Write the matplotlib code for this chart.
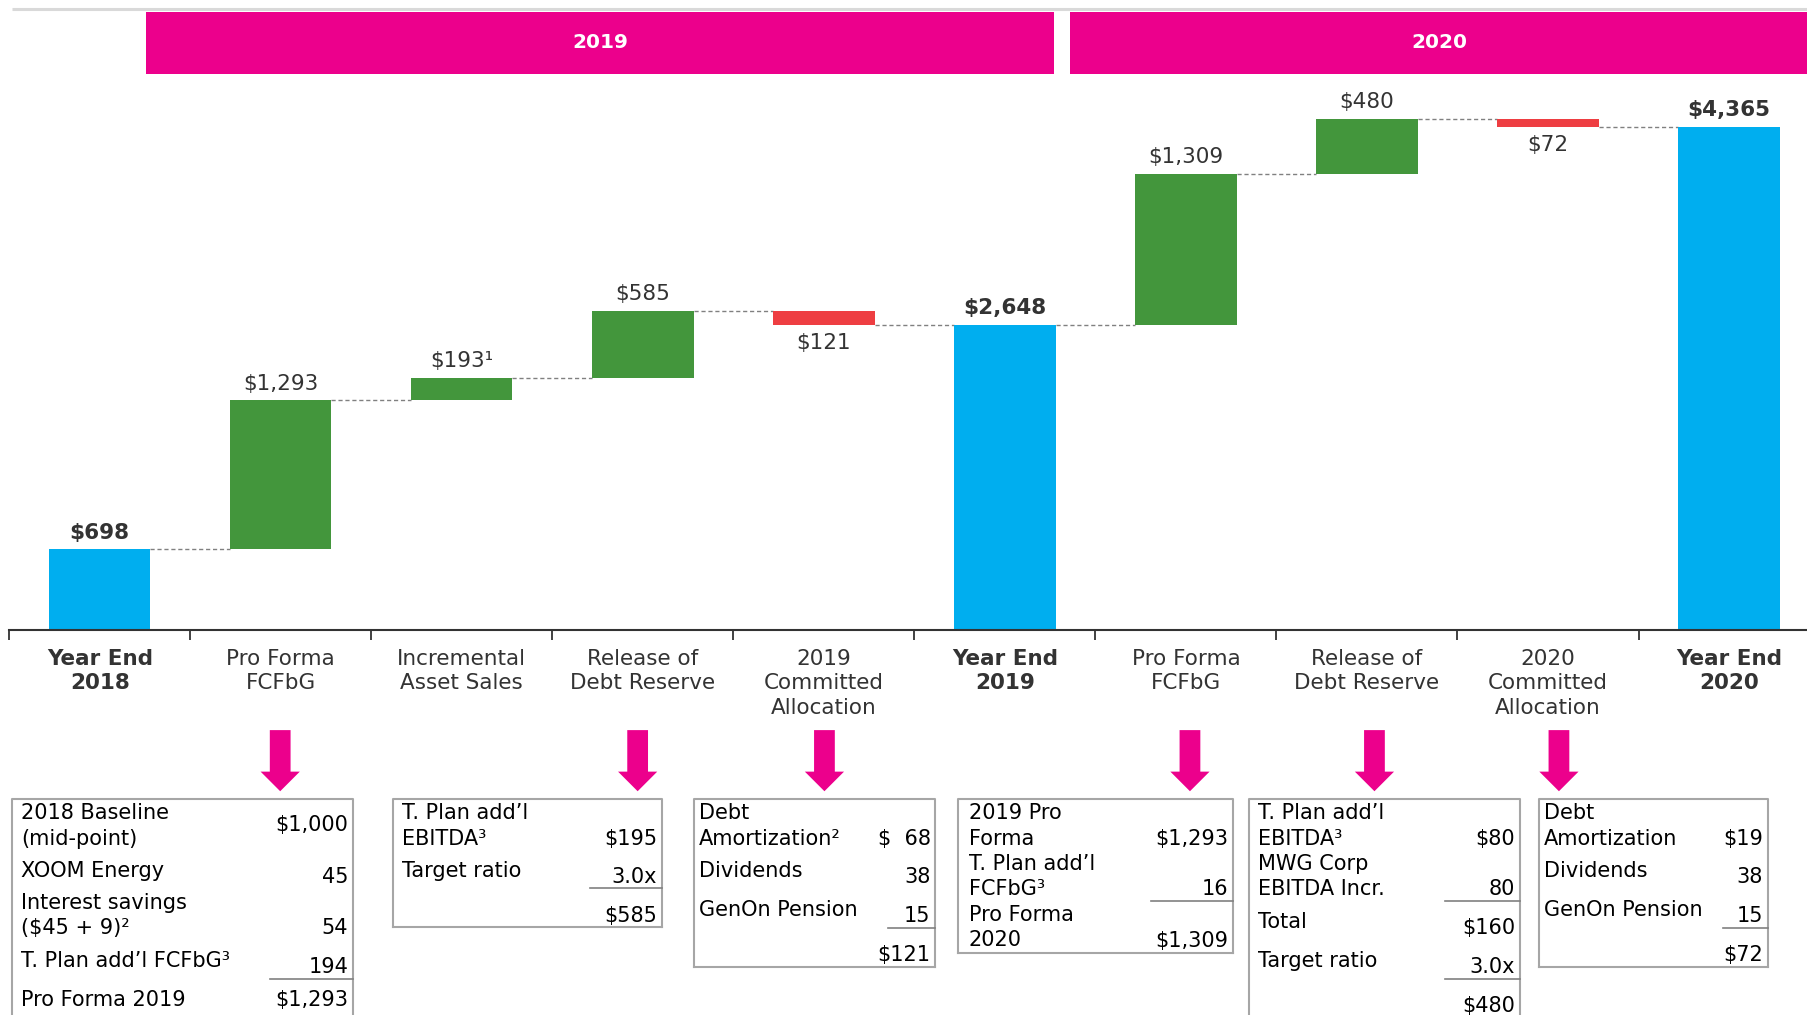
import matplotlib.pyplot as plt
import numpy as np
from matplotlib.patches import Rectangle, Polygon

plt.rcParams['font.family'] = ['DejaVu Sans']
plt.rcParams['text.parse_math'] = False

# waterfall data ($ millions)
categories = ['Year End\n2018', 'Pro Forma\nFCFbG', 'Incremental\nAsset Sales',
              'Release of\nDebt Reserve', '2019\nCommitted\nAllocation', 'Year End\n2019',
              'Pro Forma\nFCFbG', 'Release of\nDebt Reserve', '2020\nCommitted\nAllocation',
              'Year End\n2020']
kinds = ['total', 'up', 'up', 'up', 'down', 'total', 'up', 'up', 'down', 'total']
values = [698, 1293, 193, 585, 121, 2648, 1309, 480, 72, 4365]
bar_labels = ['$698', '$1,293', '$193\u00b9', '$585', '$121', '$2,648',
              '$1,309', '$480', '$72', '$4,365']

periods = ['2019', '2020']

# detail boxes: rows of (label, value)
box_rows = [
    [('2018 Baseline\n(mid-point)', '$1,000'), ('XOOM Energy', '45'),
     ('Interest savings\n($45 + 9)\u00b2', '54'), ('T. Plan add\u2019l FCFbG\u00b3', '194'),
     ('Pro Forma 2019', '$1,293')],
    [('T. Plan add\u2019l\nEBITDA\u00b3', '$195'), ('Target ratio', '3.0x'), ('', '$585')],
    [('Debt\nAmortization\u00b2', '$  68'), ('Dividends', '38'), ('GenOn Pension', '15'),
     ('', '$121')],
    [('2019 Pro\nForma', '$1,293'), ('T. Plan add\u2019l\nFCFbG\u00b3', '16'),
     ('Pro Forma\n2020', '$1,309')],
    [('T. Plan add\u2019l\nEBITDA\u00b3', '$80'), ('MWG Corp\nEBITDA Incr.', '80'),
     ('Total', '$160'), ('Target ratio', '3.0x'), ('', '$480')],
    [('Debt\nAmortization', '$19'), ('Dividends', '38'), ('GenOn Pension', '15'),
     ('', '$72')],
]

# layout (in 1568x880 reference units)
box_x = [(10, 306), (341, 574), (602, 811), (831, 1069), (1083, 1318), (1335, 1533)]
box_indent = [8, 8, 4, 9, 8, 4]
box_bottom = [884, 804, 838, 826, 884, 838]
row_y = [
    [(705, 715), (755, 760), (783, 805), (833, 838), (867, 867)],
    [(705, 727), (755, 760), (794, 794)],
    [(705, 727), (755, 760), (789, 794), (828, 828)],
    [(705, 727), (749, 771), (793, 816)],
    [(705, 727), (749, 771), (799, 805), (833, 838), (872, 872)],
    [(705, 727), (755, 760), (789, 794), (828, 828)],
]
rules = [[(849, 234)], [(770, 512)], [(805, 770)], [(781, 998)],
         [(781, 1253), (849, 1253)], [(805, 1494)]]
arrow_x = [243, 553, 715, 1032, 1192, 1352]

BLUE = '#00AEEF'
GREEN = '#43963C'
RED = '#EE3E42'
PINK = '#EC008C'
TXT = '#333333'
BOXC = '#A6A6A6'

fig = plt.figure(figsize=(18.08, 10.15), dpi=100)
bg = fig.add_axes([0, 0, 1, 1], zorder=0)
bg.set_xlim(0, 1568)
bg.set_ylim(880, 0)
bg.axis('off')

# top rule and period bands
bg.plot([10, 1568], [8, 8], color='#D9D9D9', lw=2.2, solid_capstyle='butt')
for (x0, x1), p in zip([(127, 914), (928, 1568)], periods):
    bg.add_patch(Rectangle((x0, 10), x1 - x0, 54, color=PINK, lw=0))
    bg.text((x0 + x1) / 2, 37, p, color='white', fontsize=14.5, fontweight='bold',
            ha='center', va='center')

# main waterfall axes
ax = fig.add_axes([8 / 1568, 1 - 546 / 880, 1 - 8 / 1568, (546 - 74) / 880], zorder=1)
ax.patch.set_alpha(0)
n = len(values)
x = np.arange(n)
bottoms, tops, colors = [], [], []
run = 0
for v, k in zip(values, kinds):
    if k == 'total':
        run = v
        bottoms.append(0)
        colors.append(BLUE)
    elif k == 'up':
        bottoms.append(run)
        run += v
        colors.append(GREEN)
    else:
        run -= v
        bottoms.append(run)
        colors.append(RED)
    tops.append(run if k != 'down' else run + v)
heights = [t - b for t, b in zip(tops, bottoms)]
w = 0.56
ax.bar(x, heights, bottom=bottoms, width=w, color=colors, zorder=2)

# connectors
levels = []
run = 0
for v, k in zip(values, kinds):
    run = v if k == 'total' else (run + v if k == 'up' else run - v)
    levels.append(run)
for i in range(n - 1):
    ax.plot([i + w / 2, i + 1 - w / 2], [levels[i], levels[i]], color='#808080',
            lw=1, ls=(0, (3, 2)), zorder=1)

# value labels
for i, (lab, k) in enumerate(zip(bar_labels, kinds)):
    if k == 'down':
        ax.annotate(lab, (i, bottoms[i]), xytext=(0, -13), textcoords='offset points',
                    ha='center', va='center', fontsize=15.5, color=TXT)
    else:
        ax.annotate(lab, (i, tops[i]), xytext=(0, 12), textcoords='offset points',
                    ha='center', va='center', fontsize=15.5, color=TXT,
                    fontweight='bold' if k == 'total' else 'normal')

ax.set_xlim(-0.5, -0.5 + 1560 / 157)
ax.set_ylim(0, (546 - 74) / 0.0999)
ax.set_xticks(x)
ax.set_xticklabels(categories, fontsize=15.5, color=TXT, linespacing=1.3)
for lab, k in zip(ax.get_xticklabels(), kinds):
    if k == 'total':
        lab.set_fontweight('bold')
ax.set_xticks(np.arange(-0.5, n - 1), minor=True)
ax.tick_params(axis='x', which='major', length=0, pad=13.5)
ax.tick_params(axis='x', which='minor', length=7, width=1.3, color=TXT, direction='out')
ax.set_yticks([])
for s in ['top', 'left', 'right']:
    ax.spines[s].set_visible(False)
ax.spines['bottom'].set_color(TXT)
ax.spines['bottom'].set_linewidth(1.5)

# arrows
for cx in arrow_x:
    bg.add_patch(Polygon([(cx - 9, 633), (cx + 9, 633), (cx + 9, 669), (cx + 17, 669),
                          (cx, 686), (cx - 17, 669), (cx - 9, 669)],
                         closed=True, color=PINK, lw=0))

# detail boxes
for (x0, x1), ind, yb, rows, ys, rl in zip(box_x, box_indent, box_bottom, box_rows,
                                          row_y, rules):
    bg.plot([x0, x0, x1, x1], [yb, 693, 693, yb], color=BOXC, lw=1.5)
    if yb < 880:
        bg.plot([x0, x1], [yb, yb], color=BOXC, lw=1.5)
    for (lab, val), (ly, vy) in zip(rows, ys):
        for j, line in enumerate(lab.split('\n') if lab else []):
            bg.text(x0 + ind, ly + 22 * j, line, fontsize=15, color='black',
                    ha='left', va='center')
        bg.text(x1 - 4, vy, val, fontsize=15, color='black', ha='right', va='center')
    for ry, rx in rl:
        bg.plot([rx, x1], [ry, ry], color='#808080', lw=1.2)

fig.savefig('out.png', dpi=100)
